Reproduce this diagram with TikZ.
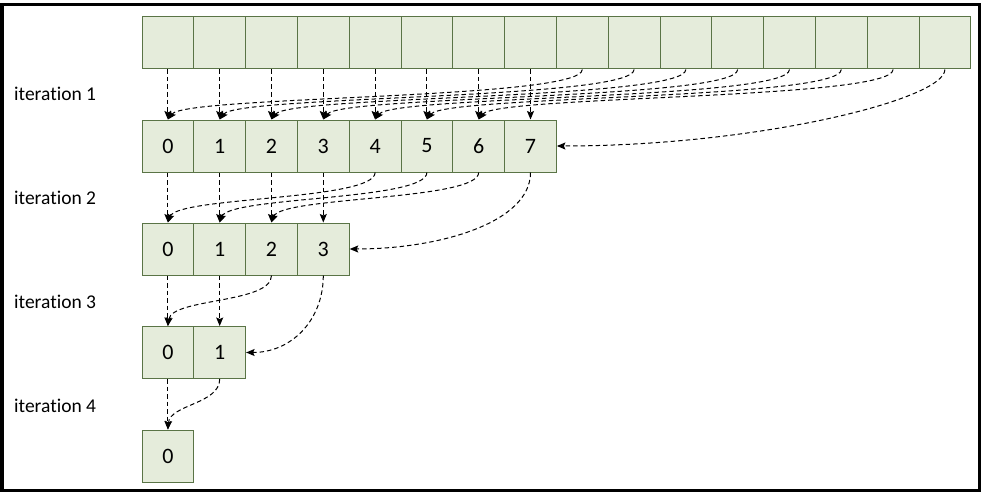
\documentclass[tikz,border=0pt]{standalone}
\usepackage{fontspec}
\setmainfont{Carlito}[Ligatures=NoCommon]
\usepackage{xcolor}
\usepackage{tikz}
\usetikzlibrary{arrows.meta}

\definecolor{cellfill}{HTML}{E5ECDB}
\definecolor{cellline}{HTML}{5A7446}

\begin{document}
\begin{tikzpicture}[
  x=1pt, y=-1pt,
  cell/.style={draw=cellline, fill=cellfill, line width=1pt, minimum width=51.8pt, minimum height=52pt, inner sep=0pt, font=\fontsize{22}{26}\selectfont},
  lbl/.style={anchor=base west, inner sep=0pt, font=\fontsize{19.5}{24}\selectfont},
  arr/.style={-{Stealth[length=8.5pt,width=7pt,inset=1.5pt]}, line width=1pt, dash pattern=on 4.5pt off 3pt}
]
\useasboundingbox (0,0) rectangle (983,495);
\draw[line width=3.5pt] (2,4.5) rectangle (979.5,490.5);

% the rows of cells
\foreach \i in {0,...,15}
  \node[cell] (top\i) at ({142+51.8*(\i+0.5)},43) {};
\foreach \i in {0,...,7}
  \node[cell] (a\i) at ({142+51.8*(\i+0.5)},146) {\i};
\foreach \i in {0,...,3}
  \node[cell] (b\i) at ({142+51.8*(\i+0.5)},249) {\i};
\foreach \i in {0,1}
  \node[cell] (c\i) at ({142+51.8*(\i+0.5)},352.5) {\i};
\node[cell] (d0) at (167.9,456) {0};

% labels
\node[lbl] (it1) at (14,100) {iteration 1};
\node[lbl] (it2) at (14,204) {iteration 2};
\node[lbl] (it3) at (14,308) {iteration 3};
\node[lbl] (it4) at (14,412) {iteration 4};

% iteration 1
\foreach \i in {0,...,7}
  \draw[arr] (top\i.south) -- (a\i.north);
\foreach \i [evaluate=\i as \j using int(\i+8)] in {0,...,6}
  \draw[arr] (top\j.south) .. controls +(0,30) and +(18,-24) .. (a\i.north);
\draw[arr] (top15.south) .. controls +(0,30) and +(200,0) .. (a7.east);

% iteration 2
\foreach \i in {0,...,3}
  \draw[arr] (a\i.south) -- (b\i.north);
\foreach \i [evaluate=\i as \j using int(\i+4)] in {0,1,2}
  \draw[arr] (a\j.south) .. controls +(0,28) and +(10,-26) .. (b\i.north);
\draw[arr] (a7.south) .. controls +(0,50) and +(90,0) .. (b3.east);

% iteration 3
\foreach \i in {0,1}
  \draw[arr] (b\i.south) -- (c\i.north);
\draw[arr] (b2.south) .. controls +(0,28) and +(4,-28) .. (c0.north);
\draw[arr] (b3.south) .. controls +(0,45) and +(45,0) .. (c1.east);

% iteration 4
\draw[arr] (c0.south) -- (d0.north);
\draw[arr] (c1.south) .. controls +(0,25) and +(2,-25) .. (d0.north);
\end{tikzpicture}
\end{document}
